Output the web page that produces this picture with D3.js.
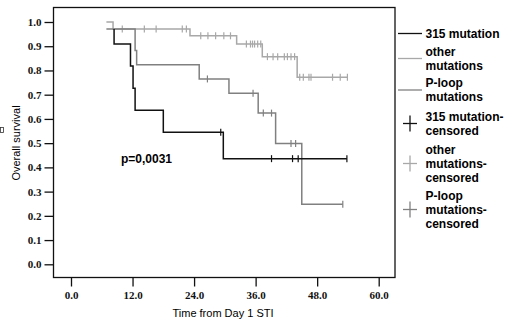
<!DOCTYPE html>
<meta charset="utf-8">
<head>
  <style>
    body { margin: 0; background: #fff; }
    svg { display: block; }
    .tick-lbl { font-family: "Liberation Serif", serif; font-weight: bold; font-size: 11px; }
    .ttl { font-family: "Liberation Sans", Arial, sans-serif; font-size: 11px; }
    .leg { font-family: "Liberation Sans", Arial, sans-serif; font-weight: bold; font-size: 12px; }
  </style>
</head>
<body>
  <svg id="viz" width="520" height="322"></svg>
  <script src="https://d3js.org/d3.v7.min.js"></script>
  <script>
    // axis ticks
    var timeTicks = [0, 12, 24, 36, 48, 60];
    var survTicks = [0, 0.1, 0.2, 0.3, 0.4, 0.5, 0.6, 0.7, 0.8, 0.9, 1.0];

    // step points [time, survival] and end of follow-up, censored times
    var m315Steps = [[8.4, 0.971], [8.4, 0.909], [11.6, 0.818], [12.1, 0.727], [12.5, 0.636], [18.0, 0.545], [29.7, 0.436]];
    var m315End = 53.8;
    var m315Censor = [29.2, 39.1, 43.2, 44.3, 53.8];

    var otherSteps = [[6.9, 1.0], [8.2, 0.971], [23.2, 0.943], [32.3, 0.909], [37.3, 0.857], [44.1, 0.772]];
    var otherEnd = 53.9;
    var otherCensor = [10.0, 14.3, 16.6, 21.7, 22.5, 25.3, 26.7, 28.2, 29.8, 31.1,
      34.2, 35.0, 35.4, 35.8, 36.4, 37.0, 38.3, 39.4, 40.3, 41.6, 42.2, 42.9, 43.6,
      44.6, 45.3, 46.4, 46.8, 51.0, 52.5, 53.9];

    var ploopSteps = [[6.9, 0.971], [12.5, 0.882], [12.8, 0.824], [25.0, 0.765], [30.8, 0.706], [36.5, 0.624], [39.9, 0.499], [45.0, 0.248]];
    var ploopEnd = 53.0;
    var ploopCensor = [26.6, 35.5, 37.5, 39.1, 42.9, 43.8, 53.0];

    var pValue = "p=0,0031";

    var svg = d3.select("#viz");

    var x = d3.scaleLinear().domain([0, 60]).range([71, 378.7]);
    var y = d3.scaleLinear().domain([0, 1]).range([264.3, 22]);

    var frame = { left: 53.5, top: 7.5, right: 395, bottom: 277.5 };

    svg.append("rect")
      .attr("x", frame.left).attr("y", frame.top)
      .attr("width", frame.right - frame.left).attr("height", frame.bottom - frame.top)
      .attr("fill", "none").attr("stroke", "#111").attr("stroke-width", 1.3);

    // y axis
    var yAxis = svg.append("g")
      .attr("transform", "translate(" + frame.left + ",0)")
      .call(d3.axisLeft(y).tickValues(survTicks).tickFormat(d3.format(".1f")).tickSize(9).tickPadding(3));
    yAxis.select(".domain").remove();
    yAxis.selectAll("line").attr("stroke", "#111").attr("stroke-width", 1.3);
    yAxis.selectAll("text").attr("class", "tick-lbl").attr("fill", "#111");

    // x axis
    var xAxis = svg.append("g")
      .attr("transform", "translate(0," + frame.bottom + ")")
      .call(d3.axisBottom(x).tickValues(timeTicks).tickFormat(d3.format(".1f")).tickSize(9).tickPadding(5));
    xAxis.select(".domain").remove();
    xAxis.selectAll("line").attr("stroke", "#111").attr("stroke-width", 1.3);
    xAxis.selectAll("text").attr("class", "tick-lbl").attr("fill", "#111");

    svg.append("text").attr("class", "ttl")
      .attr("x", 223).attr("y", 317).attr("text-anchor", "middle")
      .text("Time from Day 1 STI");

    svg.append("text").attr("class", "ttl")
      .attr("transform", "translate(20,143) rotate(-90)")
      .attr("text-anchor", "middle")
      .text("Overall survival");

    svg.append("rect")
      .attr("x", 0.5).attr("y", 127.5).attr("width", 3).attr("height", 5)
      .attr("fill", "none").attr("stroke", "#333").attr("stroke-width", 0.8);

    svg.append("text").attr("class", "leg")
      .attr("x", 121).attr("y", 162.5).text(pValue);

    var line = d3.line()
      .x(d => x(d[0]))
      .y(d => y(d[1]))
      .curve(d3.curveStepAfter);

    function survAt(steps, t) {
      var s = steps[0][1];
      steps.forEach(function (p) { if (p[0] <= t) s = p[1]; });
      return s;
    }

    function drawCurve(steps, end, censor, color) {
      var pts = steps.concat([[end, steps[steps.length - 1][1]]]);
      svg.append("path")
        .attr("d", line(pts))
        .attr("fill", "none")
        .attr("stroke", color)
        .attr("stroke-width", 1.5);

      svg.append("g").selectAll("line")
        .data(censor)
        .join("line")
        .attr("x1", d => x(d)).attr("x2", d => x(d))
        .attr("y1", d => y(survAt(steps, d)) - 3.5)
        .attr("y2", d => y(survAt(steps, d)) + 3.5)
        .attr("stroke", color)
        .attr("stroke-width", 1.2);
    }

    var cOther = "#a8a8a8";
    var cPloop = "#808080";
    var cM315 = "#111111";

    drawCurve(otherSteps, otherEnd, otherCensor, cOther);
    drawCurve(ploopSteps, ploopEnd, ploopCensor, cPloop);
    drawCurve(m315Steps, m315End, m315Censor, cM315);

    // legend
    var legLines = [
      { color: cM315, y: 33.5, labels: ["315 mutation"] },
      { color: cOther, y: 58.5, labels: ["other", "mutations"] },
      { color: cPloop, y: 90, labels: ["P-loop", "mutations"] }
    ];
    var legCross = [
      { color: cM315, y: 123.5, labels: ["315 mutation-", "censored"] },
      { color: cOther, y: 163.5, labels: ["other", "mutations-", "censored"] },
      { color: cPloop, y: 209.5, labels: ["P-loop", "mutations-", "censored"] }
    ];
    var lh = 14.3;

    function legLabels(item) {
      var n = item.labels.length;
      item.labels.forEach(function (t, i) {
        svg.append("text").attr("class", "leg")
          .attr("x", 425.5)
          .attr("y", item.y + (i - (n - 1) / 2) * lh + 4.3)
          .text(t);
      });
    }

    legLines.forEach(function (d) {
      svg.append("line")
        .attr("x1", 398).attr("x2", 422)
        .attr("y1", d.y).attr("y2", d.y)
        .attr("stroke", d.color).attr("stroke-width", 1.3);
      legLabels(d);
    });

    legCross.forEach(function (d) {
      svg.append("line")
        .attr("x1", 403).attr("x2", 417)
        .attr("y1", d.y).attr("y2", d.y)
        .attr("stroke", d.color).attr("stroke-width", 1.3);
      svg.append("line")
        .attr("x1", 410).attr("x2", 410)
        .attr("y1", d.y - 8).attr("y2", d.y + 8)
        .attr("stroke", d.color).attr("stroke-width", 1.3);
      legLabels(d);
    });
  </script>
</body>
